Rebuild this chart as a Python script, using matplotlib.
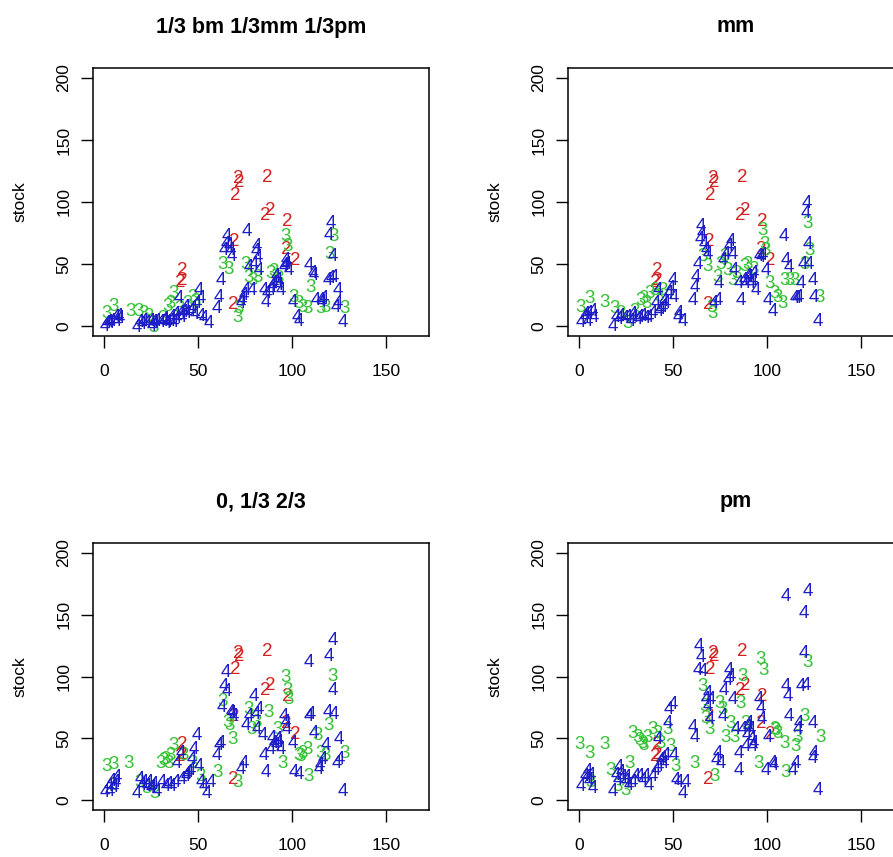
import matplotlib
matplotlib.use("Agg")
import matplotlib.pyplot as plt

plt.rcParams['font.family'] = ['Liberation Sans', 'DejaVu Sans']

titles = ["1/3 bm 1/3mm 1/3pm", "mm", "0, 1/3 2/3", "pm"]

# red "2" points are the same in every panel
red_pts = [(71.2, 119), (71.7, 116), (69.6, 105.5), (86.8, 120), (86, 89), (88.3, 93),
           (97.5, 84), (102, 53), (41.5, 45), (41.5, 37), (40.6, 35), (69, 68),
           (68.5, 17), (97, 62)]

# panel 1: 1/3 bm 1/3mm 1/3pm
p1_green = [(1, 10), (5, 16), (13.9, 12), (18.3, 12), (21, 10), (26.3, -1), (33.5, 16),
            (35.2, 18), (37, 26), (44.1, 18), (46.8, 23), (62.8, 50), (66.4, 46),
            (70.8, 7), (71.7, 14), (75.3, 50), (77, 39), (78.8, 37), (81.5, 39),
            (88.6, 42), (96.6, 72), (97.5, 64), (101, 23), (103.7, 18), (105.5, 15),
            (108.2, 14), (110, 31), (119.8, 58), (122.4, 72), (127.8, 14), (115.3, 14),
            (118, 15), (23.5, 8), (31, 6), (40, 14), (48.5, 20), (90, 44), (93, 38)]
p1_blue = [(0.5, 0), (2.3, 3), (4.1, 4), (5.9, 7), (7.7, 8), (3.2, 2), (6.8, 4),
           (17.4, -1), (19.2, 3), (21, 4), (22.8, 2), (24.6, 4), (26.3, 3), (28.1, 4),
           (25.4, 0), (29.9, 3), (31.7, 4), (33.5, 2), (35.2, 4), (37, 3), (38.8, 6),
           (36.1, 7), (40.6, 10), (42.3, 11), (44.1, 10), (45.9, 12), (41.5, 7),
           (43.2, 15), (39.7, 22), (50.4, 29), (51.2, 22), (49.5, 18), (51.2, 8),
           (53, 6), (55.7, 2), (60.1, 14), (61, 23), (61.9, 37), (65.5, 72), (63.7, 61),
           (67.3, 61), (68.1, 56), (66.4, 64), (72.6, 18), (73.5, 21), (74.4, 25),
           (76.2, 76), (75.3, 29), (77, 47), (80.6, 60), (81.5, 64), (79.7, 50),
           (82.4, 45), (78.8, 29), (85, 29), (86, 19), (86.8, 26), (88.6, 29),
           (90.4, 34), (92.2, 37), (94, 29), (95.7, 47), (97.5, 50), (98.4, 45),
           (96.6, 53), (100.2, 19), (102.8, 7), (103.7, 4), (109, 49), (110.9, 42),
           (111.7, 41), (112.6, 21), (115.3, 21), (117, 22), (118.9, 37), (120.6, 38),
           (122.4, 39), (120.6, 83), (119.8, 73), (121.5, 56), (124.2, 29), (124.6, 18),
           (126.9, 3), (123.3, 15), (1.5, 2), (8.5, 6), (20, 1), (27, 2), (32.5, 5),
           (34, 3), (38, 9), (47, 14), (48, 9), (64.5, 66), (82, 55), (89.5, 32),
           (91.3, 40), (93, 33), (96, 49), (116, 19)]

# panel 2: mm
p2_green = [(0.9, 15), (5.3, 22), (13.3, 19), (18.6, 14), (25.7, 2), (29.3, 12),
            (32.8, 21), (34.5, 22), (37.3, 26), (39.9, 29), (44.4, 29), (65.7, 56),
            (68.4, 48), (71, 10), (70.2, 15), (73.7, 39), (75.5, 50), (77.2, 56),
            (79, 45), (81.7, 37), (87.9, 48), (89.7, 50), (97.6, 77), (98.5, 66),
            (99.4, 61), (101.2, 34), (103.8, 26), (105.6, 23), (108.3, 18), (109.2, 37),
            (111.9, 37), (114.6, 37), (119.9, 50), (121.6, 83), (122.5, 61), (127.8, 23),
            (22, 10), (36, 18), (42, 24), (84, 42), (93, 46)]
p2_blue = [(0.9, 3), (2.7, 7), (5.3, 10), (7.1, 12), (4.4, 4), (8, 7), (17.8, 0),
           (19.5, 7), (22.2, 8), (24, 6), (25.7, 7), (27.5, 4), (29.3, 7), (32, 7),
           (33.7, 8), (35.5, 6), (37.3, 7), (39, 10), (40.8, 18), (41.7, 29), (42.6, 12),
           (44.4, 15), (46.2, 18), (47.9, 26), (49.7, 37), (50.6, 23), (52.4, 7),
           (53.3, 10), (55, 4), (60.4, 21), (61.3, 31), (62.1, 39), (63, 50), (64.8, 80),
           (64.4, 70), (67.5, 61), (68.4, 58), (66.6, 66), (71.9, 18), (73.7, 21),
           (74.6, 34), (76.3, 53), (78.1, 58), (79.9, 64), (80.8, 68), (81.7, 58),
           (82.6, 45), (85.2, 34), (86.1, 21), (87.9, 37), (88.8, 34), (90.5, 39),
           (92.3, 37), (94.1, 29), (95.9, 56), (97.6, 57), (99.4, 45), (100.3, 21),
           (103, 12), (109.2, 72), (110.1, 53), (111.9, 47), (117.2, 23), (118.1, 34),
           (119, 50), (120.7, 91), (121.3, 99), (121.6, 66), (122.5, 50), (124.3, 37),
           (125.2, 23), (127, 4), (114.6, 22), (3.5, 9), (21, 5), (28.5, 9), (31, 5),
           (43.5, 13), (45.3, 20), (48.8, 30), (65.5, 75), (89.7, 40), (91.4, 34),
           (93.2, 42), (96.7, 55), (116, 22)]

# panel 3: 0, 1/3 2/3
p3_green = [(1.4, 27), (5, 29), (13, 30), (18.9, 14), (22.4, 9), (26.7, 5), (29.9, 30),
            (32.6, 33), (35.2, 36), (37, 44), (42.3, 36), (46.8, 30), (51.2, 19),
            (60.1, 22), (62.8, 80), (65.5, 63), (68.3, 49), (70.8, 14), (76.7, 73),
            (78.5, 57), (81.1, 63), (87.7, 71), (92.2, 57), (94.9, 30), (96.6, 99),
            (97.5, 89), (98.4, 81), (103.7, 36), (105.5, 38), (108.2, 41), (109, 19),
            (113.5, 52), (115.3, 38), (117.9, 36), (121.5, 100), (119.7, 60), (127.8, 38),
            (31.5, 32), (34, 30), (66.5, 60), (104.5, 35), (4.5, 12)]
p3_blue = [(0.5, 6), (2.3, 11), (4.1, 15), (5.9, 14), (6.8, 18), (3.2, 7), (17.4, 5),
           (19.2, 17), (21, 14), (22.8, 11), (24.6, 9), (26.3, 13), (28.1, 7), (30.8, 14),
           (32.6, 11), (34.3, 13), (36.1, 11), (37.9, 14), (38.8, 30), (40.6, 38),
           (41.5, 17), (43.2, 19), (45, 22), (46.8, 33), (47.7, 41), (49.5, 52),
           (50.4, 27), (51.2, 14), (53, 11), (54.8, 5), (56.6, 14), (60.1, 36), (61, 44),
           (61.9, 46), (62.8, 75), (63.7, 92), (64.6, 103), (65.5, 88), (67.3, 71),
           (69, 68), (72.6, 25), (74.4, 30), (75.3, 60), (77, 68), (79.7, 84), (80.6, 69),
           (82.4, 73), (81.5, 57), (84.2, 52), (85, 36), (85.9, 22), (88.6, 41),
           (90.4, 46), (92.2, 49), (94, 41), (95.7, 68), (96.6, 63), (97.5, 57),
           (100.2, 46), (101.1, 22), (103.7, 21), (109, 68), (110, 69), (111.7, 54),
           (114.4, 25), (116.2, 33), (117.9, 44), (119.7, 116), (121.5, 129), (121.5, 89),
           (119, 71), (122.4, 69), (124.7, 49), (123.8, 30), (125.6, 33), (126.9, 7),
           (109, 111), (5, 10), (20, 12), (23.5, 14), (25.5, 10), (44, 21), (46, 24),
           (68, 70), (89.5, 50), (91.3, 44), (93, 47), (115, 28)]

# panel 4: pm
p4_green = [(0, 45), (5.3, 38), (13.3, 45), (16.9, 24), (20.4, 11), (24.9, 8), (26.6, 30),
            (28.4, 54), (31.1, 51), (33.7, 46), (36.4, 51), (39.1, 57), (41.7, 54),
            (43.5, 46), (47.1, 57), (48.8, 43), (51.5, 27), (61.3, 30), (65.7, 92),
            (66.6, 76), (67.5, 66), (69.3, 57), (72, 19), (74.6, 78), (76.3, 73),
            (78.1, 51), (80.8, 62), (82.6, 51), (86.1, 78), (87, 100), (88.8, 62),
            (95.3, 30), (96.6, 114), (98.4, 105), (103.8, 57), (105.6, 54), (109.2, 46),
            (110.1, 22), (115.4, 43), (116.3, 51), (119.8, 68), (121.6, 111), (128.7, 51),
            (32, 48), (34.5, 44), (104.5, 56), (6, 14)]
p4_blue = [(0.9, 11), (2.7, 19), (4.4, 23), (6.2, 20), (7.1, 9), (5.3, 15), (17.8, 7),
           (19.5, 20), (21.3, 26), (23, 18), (24.9, 15), (26.6, 12), (28.4, 14),
           (30.2, 19), (32, 19), (33.7, 16), (35.5, 19), (37.3, 12), (39.1, 19),
           (40.8, 24), (41.7, 49), (42.6, 27), (43.5, 32), (45.3, 30), (47.1, 62),
           (47.9, 73), (49.7, 77), (50.6, 36), (51.5, 16), (53.3, 14), (55, 5), (56.8, 14),
           (60.4, 59), (61.3, 51), (63.9, 124), (64.8, 115), (63, 105), (65.7, 104),
           (67.5, 81), (68.4, 76), (69.3, 65), (70.2, 81), (68.4, 86), (72.8, 32),
           (73.7, 38), (75.5, 30), (76.3, 68), (77.2, 89), (79, 97), (79.9, 105),
           (80.8, 100), (81.7, 81), (83.5, 57), (85.2, 38), (85.2, 24), (87, 57),
           (88.8, 43), (89.7, 59), (90.5, 62), (91.4, 57), (92.3, 43), (93.2, 46),
           (95.7, 81), (96.6, 74), (97.5, 65), (99.4, 24), (100.3, 51), (103, 30),
           (103.8, 28), (110.1, 165), (110.1, 92), (111, 84), (111.9, 68), (113.7, 24),
           (115.4, 30), (116.3, 57), (117.2, 62), (118, 92), (120.7, 93), (119.8, 119),
           (121.6, 169), (119.8, 151), (124.3, 62), (125.2, 38), (124.3, 34), (127, 8),
           (4, 18), (20.5, 16), (22, 22), (25.5, 18), (44.5, 34), (46, 36), (89, 52),
           (92, 50)]

panels = [(p1_green, p1_blue), (p2_green, p2_blue), (p3_green, p3_blue), (p4_green, p4_blue)]

W, H = 893, 857
fig = plt.figure(figsize=(W / 100, H / 100), dpi=100)

# box positions in pixels: left, top, width, height
boxes = [(93, 68, 336, 268), (568, 68, 336, 268), (93, 543, 336, 267), (568, 543, 336, 267)]

red = '#d42222'
green = '#36c236'
blue = '#1e1ec8'

for (lx, ty, bw, bh), title, (greens, blues) in zip(boxes, titles, panels):
    ax = fig.add_axes([lx / W, (H - ty - bh) / H, bw / W, bh / H])
    ax.set_xlim(-6, 173)
    ax.set_ylim(-8, 208)
    for label, pts, col in [('2', red_pts, red), ('3', greens, green), ('4', blues, blue)]:
        for x, y in pts:
            ax.text(x, y, label, color=col, fontsize=13.5, ha='center', va='center')
    ax.set_xticks([0, 50, 100, 150])
    ax.set_yticks([0, 50, 100, 150, 200])
    ax.tick_params(length=8.5, width=1, labelsize=12.5, pad=12)
    ax.tick_params(axis='y', labelrotation=90, pad=7)
    for lab in ax.get_yticklabels():
        lab.set_verticalalignment('center')
    for s in ax.spines.values():
        s.set_linewidth(1.1)
    ax.set_ylabel('stock', fontsize=12.5, labelpad=21)
    ax.set_title(title, fontsize=15.5, fontweight='bold', y=1 + 41 / bh, va='center', pad=0)

fig.savefig('out.png', dpi=100)
